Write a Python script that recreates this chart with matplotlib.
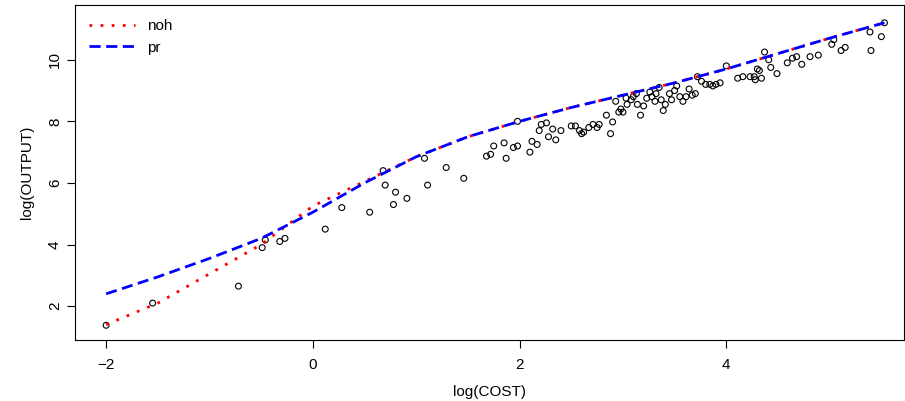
import numpy as np
import matplotlib
matplotlib.use('Agg')
import matplotlib.pyplot as plt

plt.rcParams['font.family'] = ['Liberation Sans', 'DejaVu Sans']

cost = [-2.0, -1.55, -0.72, -0.49, -0.46, -0.32, -0.27, 0.12, 0.28, 0.55, 0.68, 0.7, 0.8, 0.78,
        0.91, 1.08, 1.11, 1.29, 1.46, 1.68, 1.72, 1.75, 1.85, 1.87, 1.94, 1.98, 1.98, 2.1, 2.12,
        2.17, 2.19, 2.21, 2.26, 2.28, 2.32, 2.35, 2.4, 2.5, 2.54, 2.58, 2.6, 2.62, 2.67, 2.71,
        2.75, 2.77, 2.84, 2.88, 2.9, 2.93, 2.96, 2.98, 3.0, 3.03, 3.04, 3.08, 3.1, 3.13, 3.14,
        3.17, 3.2, 3.23, 3.26, 3.28, 3.31, 3.32, 3.35, 3.37, 3.39, 3.41, 3.45, 3.47, 3.5, 3.52,
        3.55, 3.58, 3.61, 3.64, 3.67, 3.7, 3.72, 3.76, 3.8, 3.84, 3.87, 3.9, 3.94, 4.0, 4.11,
        4.16, 4.23, 4.27, 4.28, 4.3, 4.32, 4.34, 4.37, 4.41, 4.43, 4.49, 4.59, 4.64, 4.68, 4.73,
        4.81, 4.89, 5.02, 5.04, 5.11, 5.15, 5.39, 5.4, 5.5, 5.53]
output = [1.38, 2.1, 2.65, 3.9, 4.15, 4.1, 4.2, 4.5, 5.2, 5.05, 6.4, 5.93, 5.7, 5.3,
          5.5, 6.8, 5.93, 6.5, 6.15, 6.87, 6.93, 7.2, 7.3, 6.8, 7.15, 7.2, 8.0, 7.0, 7.35,
          7.25, 7.7, 7.9, 7.95, 7.5, 7.75, 7.4, 7.7, 7.85, 7.85, 7.7, 7.6, 7.65, 7.8, 7.9,
          7.8, 7.9, 8.2, 7.6, 7.98, 8.65, 8.3, 8.4, 8.3, 8.75, 8.55, 8.7, 8.8, 8.9, 8.55,
          8.2, 8.5, 8.75, 8.95, 8.8, 8.65, 8.9, 9.1, 8.7, 8.35, 8.55, 8.9, 8.7, 9.0, 9.15,
          8.8, 8.65, 8.8, 9.05, 8.85, 8.9, 9.45, 9.3, 9.2, 9.2, 9.15, 9.2, 9.25, 9.8, 9.4,
          9.45, 9.45, 9.45, 9.35, 9.7, 9.65, 9.4, 10.25, 10.0, 9.75, 9.55, 9.9, 10.05, 10.1, 9.85,
          10.1, 10.15, 10.5, 10.65, 10.3, 10.4, 10.9, 10.3, 10.75, 11.2]

line_x = [-2, -1.5, -1, -0.5, 0, 0.5, 1, 1.5, 2, 2.5, 3, 3.5, 4, 4.5, 5, 5.53]
noh = [1.4, 2.1, 3.05, 4.0, 5.25, 6.05, 6.85, 7.5, 8.0, 8.45, 8.85, 9.25, 9.7, 10.2, 10.7, 11.2]
pr = [2.4, 2.95, 3.55, 4.2, 5.05, 6.0, 6.85, 7.5, 8.0, 8.45, 8.85, 9.25, 9.7, 10.2, 10.7, 11.2]

fig = plt.figure(figsize=(9.05, 4.01), dpi=100)
ax = fig.add_axes([0.083, 0.152, 0.916, 0.835])
ax.scatter(cost, output, s=18, facecolors='none', edgecolors='black', linewidths=0.8)
ax.plot(line_x, noh, color='red', linestyle=(0, (1, 3)), linewidth=2, label='noh')
ax.plot(line_x, pr, color='blue', linestyle=(0, (4, 2)), linewidth=2, label='pr')
ax.set_xlim(-2.3, 5.72)
ax.set_ylim(0.9, 11.77)
ax.set_xticks([-2, 0, 2, 4])
ax.set_yticks([2, 4, 6, 8, 10])
ax.set_xticklabels(['\u22122', '0', '2', '4'])
for t in ax.get_yticklabels():
    t.set_rotation(90)
    t.set_va('center')
ax.tick_params(direction='out', length=6, labelsize=11)
ax.tick_params(axis='x', pad=7)
ax.set_xlabel('log(COST)', fontsize=11, labelpad=9)
ax.set_ylabel('log(OUTPUT)', fontsize=11, labelpad=10)
ax.legend(loc='upper left', frameon=False, fontsize=11, handlelength=3)
fig.savefig('out.png')
